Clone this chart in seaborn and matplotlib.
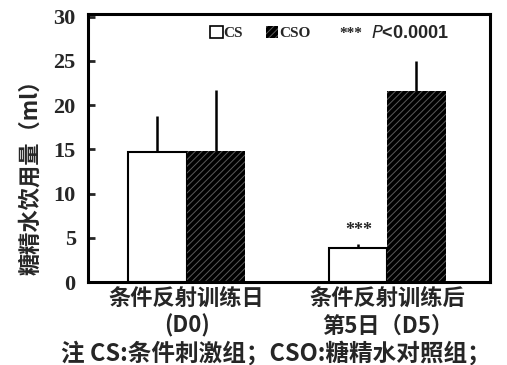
import pandas as pd
import matplotlib.pyplot as plt
import seaborn as sns
from matplotlib.patches import Patch

# data
days = ["条件反射训练日\n(D0)", "条件反射训练后\n第5日（D5）"]
groups = ["CS", "CSO"]
cs_mean = [14.7, 3.8]
cs_err = [4.1, 0.5]
cso_mean = [14.8, 21.6]
cso_err = [6.9, 3.4]
y_ticks = [0, 5, 10, 15, 20, 25, 30]

df = pd.DataFrame({
    "day": days * 2,
    "group": ["CS"] * 2 + ["CSO"] * 2,
    "mean": cs_mean + cso_mean,
    "err": cs_err + cso_err,
})

sns.set_theme(style="white")
plt.rcParams["font.family"] = ["Liberation Serif", "Noto Sans CJK SC"]
plt.rcParams["hatch.linewidth"] = 0.7
cjk = ["Noto Sans CJK SC", "DejaVu Sans"]
hatch_col = "#5a5a5a"

fig = plt.figure(figsize=(5.07, 3.65), dpi=100)
ax = fig.add_axes([0.174, 0.227, 0.792, 0.735])

sns.barplot(data=df, x="day", y="mean", hue="group", hue_order=groups,
            palette=["white", "black"], width=0.58, errorbar=None,
            legend=False, ax=ax, saturation=1)

for cont, grp in zip(ax.containers, groups):
    errs = df[df.group == grp]["err"].tolist()
    for bar, e in zip(cont, errs):
        x = bar.get_x() + bar.get_width() / 2
        top = bar.get_height()
        ax.vlines(x, top, top + e, color="black", lw=1.8)
        if grp == "CS":
            bar.set_edgecolor("black")
            bar.set_linewidth(1.5)
        else:
            bar.set_facecolor("black")
            bar.set_edgecolor(hatch_col)
            bar.set_linewidth(0)
            bar.set_hatch("/////")

# significance marker above CS at D5
b = ax.containers[0][1]
ax.text(b.get_x() + b.get_width() / 2, cs_mean[1] + cs_err[1] + 0.6, "***",
        ha="center", va="bottom", fontsize=13, fontweight="bold")

ax.set_xlim(-0.49, 1.51)
ax.set_ylim(0, 30.3)
ax.set_yticks(y_ticks)
ax.set_yticklabels([str(t) for t in y_ticks], fontsize=16, fontweight="bold")
ax.tick_params(axis="y", direction="in", length=5, width=2, pad=9, left=True)
ax.tick_params(axis="x", length=0, pad=4)
for lab in ax.get_xticklabels():
    lab.set_family(cjk)
    lab.set_fontsize(16)
    lab.set_fontweight("bold")
    lab.set_linespacing(1.2)
ax.set_xlabel("")
ax.set_ylabel("糖精水饮用量（ml）", family=cjk, fontsize=16, fontweight="bold")
ax.yaxis.set_label_coords(-0.115, 0.41)
for s in ax.spines.values():
    s.set_linewidth(2.2)
    s.set_color("black")

handles = [Patch(facecolor="white", edgecolor="black", lw=1.2),
           Patch(facecolor="black", edgecolor=hatch_col, hatch="/////", lw=0)]
ax.legend(handles, groups, loc="center left", bbox_to_anchor=(0.27, 0.928), ncol=2,
          frameon=False, prop={"family": "Liberation Serif", "weight": "bold", "size": 11},
          handlelength=0.8, handleheight=0.8, handletextpad=0.05, columnspacing=1.5)
ax.text(0.625, 0.928, "***", transform=ax.transAxes, fontsize=11, fontweight="bold",
        va="center")
ax.text(0.705, 0.928, "$\\it{P}$<0.0001", transform=ax.transAxes, fontsize=13,
        fontweight="bold", va="center", family="Liberation Sans")

fig.text(0.12, 0.032, "注 CS:条件刺激组；CSO:糖精水对照组；", family=cjk,
         fontsize=17, fontweight="bold", va="center")

fig.savefig("out.png", dpi=100)
